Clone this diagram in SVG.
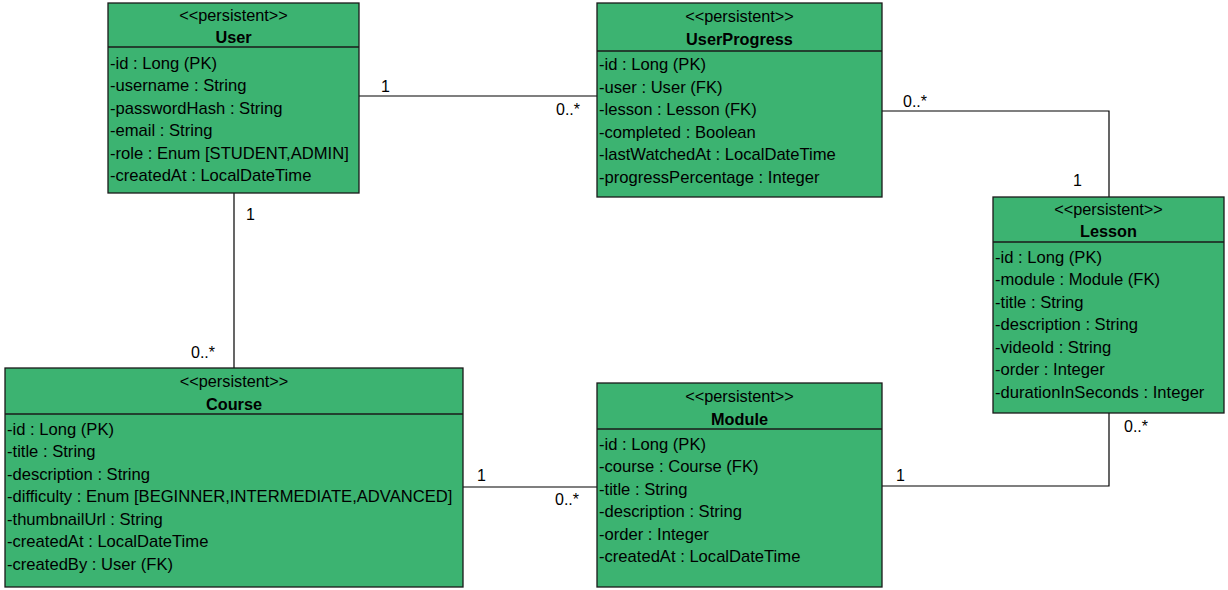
<svg xmlns="http://www.w3.org/2000/svg" width="1228" height="590" viewBox="0 0 1228 590">
<style>
.box{fill:#3cb371;stroke:#1a1a1a;stroke-width:1.3}
.div{stroke:#1a1a1a;stroke-width:1.3}
text{font-family:"Liberation Sans",Arial,sans-serif;font-size:16.6px;fill:#000}
.st{text-anchor:middle;font-size:16.3px}
.nm{text-anchor:middle;font-weight:bold;font-size:16.3px}
.lb{font-size:16px}
.cn{fill:none;stroke:#000;stroke-width:1.2}
</style>
<rect width="1228" height="590" fill="#fff"/>
<g id="connectors">
<polyline class="cn" points="359,96 597,96"/>
<polyline class="cn" points="882,111 1109,111 1109,197"/>
<polyline class="cn" points="234,193 234,368"/>
<polyline class="cn" points="463,487 597,487"/>
<polyline class="cn" points="882,486 1109,486 1109,413"/>
<text class="lb" x="381" y="92">1</text>
<text class="lb" x="556" y="115">0..*</text>
<text class="lb" x="903" y="107">0..*</text>
<text class="lb" x="1073" y="186">1</text>
<text class="lb" x="246" y="220">1</text>
<text class="lb" x="191" y="358">0..*</text>
<text class="lb" x="477" y="481">1</text>
<text class="lb" x="555" y="505">0..*</text>
<text class="lb" x="896" y="481">1</text>
<text class="lb" x="1124" y="432">0..*</text>
</g>
<g id="User">
<rect class="box" x="108" y="3" width="251" height="190"/>
<line class="div" x1="108" y1="47" x2="359" y2="47"/>
<text class="st" x="233.5" y="21">&lt;&lt;persistent&gt;&gt;</text>
<text class="nm" x="233.5" y="43">User</text>
<text x="110" y="69">-id : Long (PK)</text>
<text x="110" y="91">-username : String</text>
<text x="110" y="114">-passwordHash : String</text>
<text x="110" y="136">-email : String</text>
<text x="110" y="159">-role : Enum [STUDENT,ADMIN]</text>
<text x="110" y="181">-createdAt : LocalDateTime</text>
</g>
<g id="UserProgress">
<rect class="box" x="597" y="3" width="285" height="194"/>
<line class="div" x1="597" y1="51" x2="882" y2="51"/>
<text class="st" x="739.5" y="22">&lt;&lt;persistent&gt;&gt;</text>
<text class="nm" x="739.5" y="45">UserProgress</text>
<text x="599" y="70">-id : Long (PK)</text>
<text x="599" y="93">-user : User (FK)</text>
<text x="599" y="115">-lesson : Lesson (FK)</text>
<text x="599" y="138">-completed : Boolean</text>
<text x="599" y="160">-lastWatchedAt : LocalDateTime</text>
<text x="599" y="183">-progressPercentage : Integer</text>
</g>
<g id="Lesson">
<rect class="box" x="993" y="197" width="231" height="216"/>
<line class="div" x1="993" y1="242" x2="1224" y2="242"/>
<text class="st" x="1108.5" y="215">&lt;&lt;persistent&gt;&gt;</text>
<text class="nm" x="1108.5" y="237">Lesson</text>
<text x="995" y="263">-id : Long (PK)</text>
<text x="995" y="285">-module : Module (FK)</text>
<text x="995" y="308">-title : String</text>
<text x="995" y="330">-description : String</text>
<text x="995" y="353">-videoId : String</text>
<text x="995" y="375">-order : Integer</text>
<text x="995" y="398">-durationInSeconds : Integer</text>
</g>
<g id="Course">
<rect class="box" x="5" y="368" width="458" height="219"/>
<line class="div" x1="5" y1="414" x2="463" y2="414"/>
<text class="st" x="234" y="387">&lt;&lt;persistent&gt;&gt;</text>
<text class="nm" x="234" y="410">Course</text>
<text x="7" y="435">-id : Long (PK)</text>
<text x="7" y="457">-title : String</text>
<text x="7" y="480">-description : String</text>
<text x="7" y="502">-difficulty : Enum [BEGINNER,INTERMEDIATE,ADVANCED]</text>
<text x="7" y="525">-thumbnailUrl : String</text>
<text x="7" y="547">-createdAt : LocalDateTime</text>
<text x="7" y="570">-createdBy : User (FK)</text>
</g>
<g id="Module">
<rect class="box" x="597" y="383" width="285" height="204"/>
<line class="div" x1="597" y1="429" x2="882" y2="429"/>
<text class="st" x="739.5" y="402">&lt;&lt;persistent&gt;&gt;</text>
<text class="nm" x="739.5" y="425">Module</text>
<text x="599" y="450">-id : Long (PK)</text>
<text x="599" y="472">-course : Course (FK)</text>
<text x="599" y="495">-title : String</text>
<text x="599" y="517">-description : String</text>
<text x="599" y="540">-order : Integer</text>
<text x="599" y="562">-createdAt : LocalDateTime</text>
</g>
</svg>
